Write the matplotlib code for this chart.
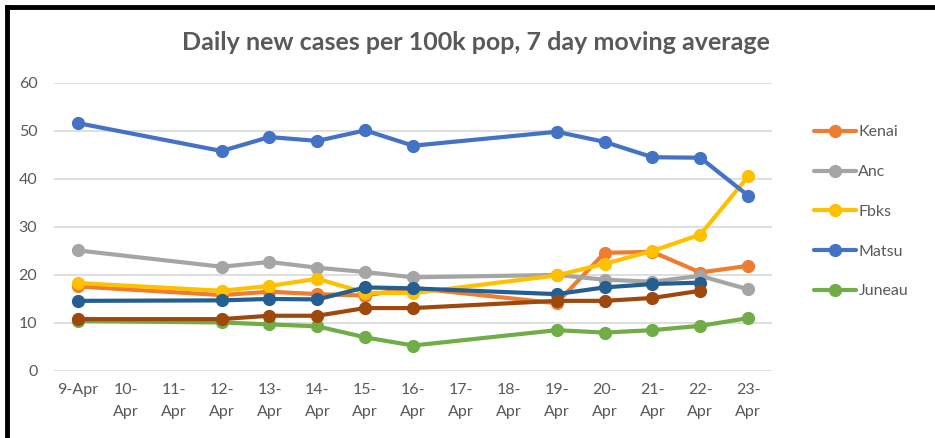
import numpy as np
import matplotlib
matplotlib.use("Agg")
import matplotlib.pyplot as plt
from matplotlib.lines import Line2D

plt.rcParams['font.family'] = ['Lato', 'DejaVu Sans']

# Axis categories (every day shown, data only on some days)
day_labels = ["9-Apr", "10-\nApr", "11-\nApr", "12-\nApr", "13-\nApr", "14-\nApr", "15-\nApr",
              "16-\nApr", "17-\nApr", "18-\nApr", "19-\nApr", "20-\nApr", "21-\nApr", "22-\nApr", "23-\nApr"]
data_days = [9, 12, 13, 14, 15, 16, 19, 20, 21, 22, 23]

# Series values
kenai = [17.6, 15.8, 16.5, 16.0, 15.7, 17.3, 14.1, 24.6, 24.8, 20.5, 21.9]
anc = [25.1, 21.7, 22.7, 21.5, 20.6, 19.5, 20.0, 19.0, 18.6, 19.8, 17.0]
fbks = [18.3, 16.7, 17.7, 19.2, 16.3, 16.2, 19.9, 22.3, 25.0, 28.4, 40.5]
matsu = [51.6, 45.8, 48.7, 47.9, 50.1, 46.9, 49.8, 47.7, 44.5, 44.4, 36.5]
juneau = [10.4, 10.1, 9.7, 9.3, 7.0, 5.3, 8.5, 8.0, 8.5, 9.4, 11.0]
# two more series drawn without a legend entry (no value on 23-Apr)
extra1 = [14.6, 14.7, 15.0, 14.9, 17.4, 17.2, 16.0, 17.4, 18.1, 18.4]
extra2 = [10.8, 10.8, 11.5, 11.5, 13.1, 13.1, 14.6, 14.6, 15.2, 16.7]

xs = [d - 9 for d in data_days]

fig = plt.figure(figsize=(9.35, 4.38), dpi=100)
ax = fig.add_axes([0.0578, 0.153, 0.768, 0.658])

series = [("Kenai", kenai, "#ED7D31"),
          ("Anc", anc, "#A5A5A5"),
          ("Fbks", fbks, "#FFC000"),
          ("Matsu", matsu, "#4472C4"),
          ("Juneau", juneau, "#70AD47"),
          ("_extra1", extra1, "#255E91"),
          ("_extra2", extra2, "#9E480E")]

for name, vals, col in series:
    ax.plot(xs[:len(vals)], vals, color=col, lw=3, marker="o", ms=8.5,
            solid_capstyle="round", label=name, zorder=3)

ax.set_xlim(-0.5, 14.5)
ax.set_ylim(0, 60)
ax.set_yticks(np.arange(0, 61, 10))
ax.set_xticks(range(len(day_labels)))
ax.set_xticklabels(day_labels, linespacing=1.7, va="top")
ax.tick_params(length=0, colors="#595959", labelsize=11.5)
ax.tick_params(axis="y", pad=12)
ax.tick_params(axis="x", pad=9)
ax.grid(axis="y", color="#D9D9D9", lw=1.2)
ax.set_axisbelow(True)
for s in ax.spines.values():
    s.set_visible(False)

fig.text(0.509, 0.903, "Daily new cases per 100k pop, 7 day moving average",
         ha="center", va="center", fontsize=18, fontweight="bold", color="#595959")

leg = ax.legend(loc="upper left", bbox_to_anchor=(1.05, 0.875), frameon=False,
                fontsize=11.5, labelcolor="#595959", handlelength=2.6,
                labelspacing=1.6, handletextpad=0.15, borderaxespad=0)

# black frame on top and left edges
fig.add_artist(Line2D([0.0075, 1.0], [0.984, 0.984], transform=fig.transFigure, color="black", lw=3.5))
fig.add_artist(Line2D([0.0075, 0.0075], [0.0, 0.984], transform=fig.transFigure, color="black", lw=3.5))

fig.savefig("out.png", dpi=100)
